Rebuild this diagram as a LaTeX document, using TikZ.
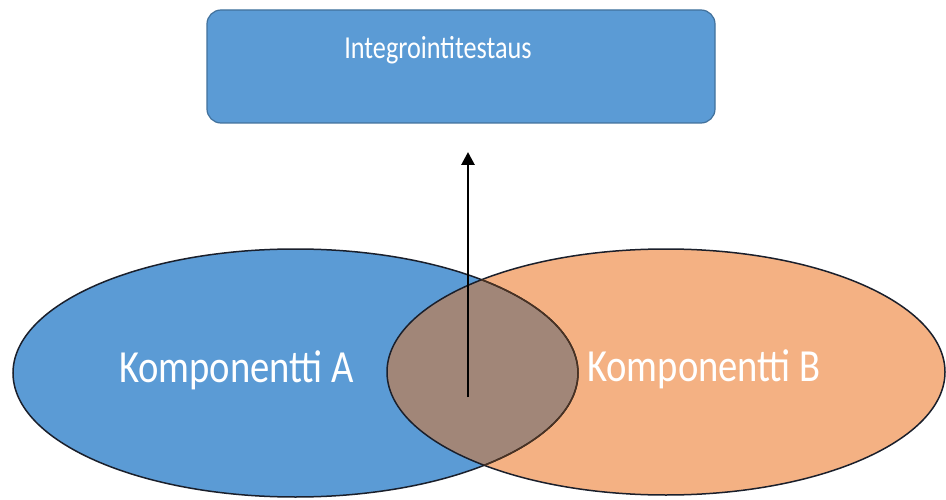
\documentclass[tikz,border=0pt]{standalone}
\usepackage{fontspec}
\setmainfont{Carlito}
\usetikzlibrary{arrows.meta}
\definecolor{boxblue}{HTML}{5B9BD5}
\definecolor{boxedge}{HTML}{41719C}
\definecolor{peach}{HTML}{F4B183}
\definecolor{overlapbrown}{HTML}{A18678}
\definecolor{outline}{HTML}{1A1F2B}
\definecolor{browndark}{HTML}{4A3222}
\tikzset{
  titlebox/.style={draw=boxedge, line width=1.2pt, fill=boxblue, rounded corners=14pt,
    minimum width=508pt, minimum height=113pt, inner sep=0pt, outer sep=0pt},
  whitelabel/.style={text=white, inner sep=0pt, anchor=base, transform shape},
  setedge/.style={draw=outline, line width=1.5pt},
  uparrow/.style={line width=2.8pt, -{Triangle[length=13pt,width=13pt]}}
}
\begin{document}
\begin{tikzpicture}[x=1pt, y=-1pt]
  \useasboundingbox (0,0) rectangle (946,500);
  \fill[white] (0,0) rectangle (946,500);

  % top box
  \node[titlebox] (test) at (461,66.5) {};
  \begin{scope}[xscale=0.82]
    \node[whitelabel, font=\fontsize{32}{36}\selectfont] (testlabel) at (438/0.82,59) {Integrointitestaus};
  \end{scope}

  % component sets
  \fill[boxblue] (295.5,373) ellipse [x radius=282.5pt, y radius=124pt];
  \fill[peach]   (666,372)   ellipse [x radius=279pt,   y radius=123pt];
  \begin{scope}
    \clip (295.5,373) ellipse [x radius=282.5pt, y radius=124pt];
    \fill[overlapbrown] (666,372) ellipse [x radius=279pt, y radius=123pt];
  \end{scope}
  \draw[setedge] (295.5,373) ellipse [x radius=282.5pt, y radius=124pt];
  \draw[setedge] (666,372) ellipse [x radius=279pt, y radius=123pt];
  \begin{scope}
    \clip (666,372) ellipse [x radius=279pt, y radius=123pt];
    \draw[setedge, draw=browndark] (295.5,373) ellipse [x radius=282.5pt, y radius=124pt];
  \end{scope}

  \begin{scope}[xscale=0.84]
    \node[whitelabel, font=\fontsize{46}{50}\selectfont] (compA) at (236.5/0.84,382) {Komponentti A};
    \node[whitelabel, font=\fontsize{46}{50}\selectfont] (compB) at (704/0.84,381) {Komponentti B};
  \end{scope}

  % integration arrow
  \coordinate (joint) at (468,397);
  \coordinate (tip) at (468,152);
  \draw[uparrow] (joint) -- (tip);
\end{tikzpicture}
\end{document}
